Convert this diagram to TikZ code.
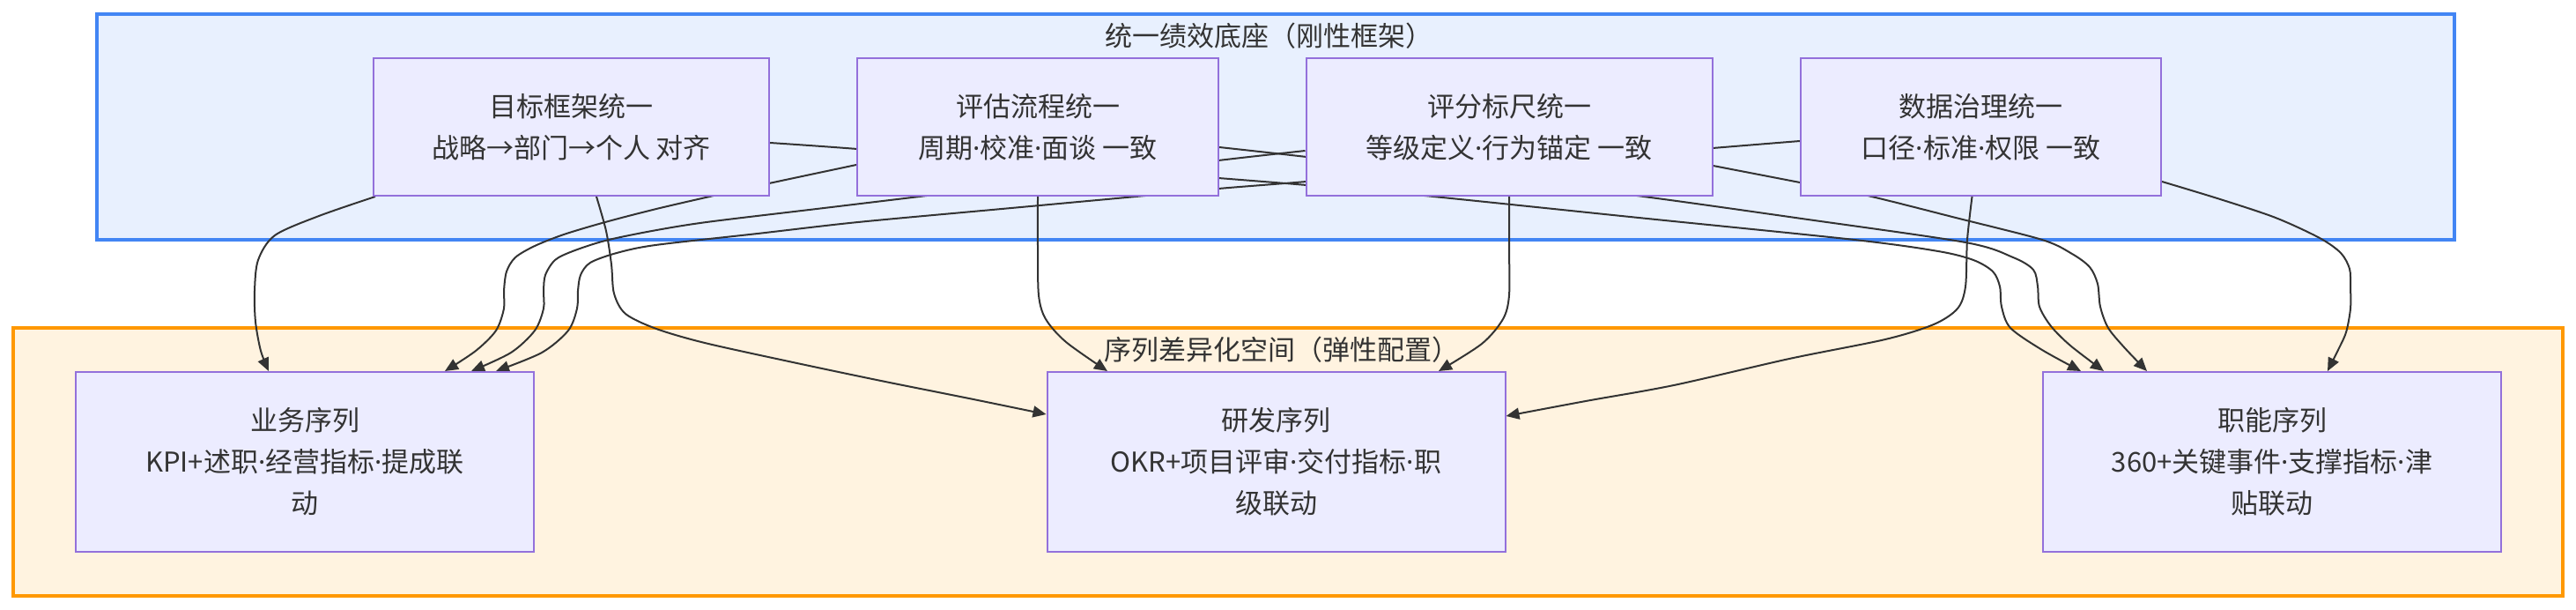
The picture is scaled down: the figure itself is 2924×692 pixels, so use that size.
\documentclass[tikz,border=0pt]{standalone}
\usepackage{fontspec}
\setmainfont{Noto Sans CJK SC}
\newfontfamily\dotfont{Noto Sans}
\newcommand{\mydot}{{\dotfont ·}}
\usetikzlibrary{arrows.meta,calc}
\definecolor{nodeFill}{HTML}{ECECFF}
\definecolor{nodeStroke}{HTML}{9370DB}
\definecolor{txt}{HTML}{333333}
\definecolor{topFill}{HTML}{E8F0FE}
\definecolor{topStroke}{HTML}{4285F4}
\definecolor{botFill}{HTML}{FFF3E0}
\definecolor{botStroke}{HTML}{FF9800}
\pgfdeclarelayer{bg}
\pgfdeclarelayer{edges}
\pgfsetlayers{bg,edges,main}
\begin{document}
\begin{tikzpicture}[x=1pt,y=-1pt,
  unit/.style={draw=nodeStroke, fill=nodeFill, line width=2pt, text=txt, align=center,
    font=\fontsize{31}{47}\selectfont, inner sep=0pt},
  topunit/.style={unit, minimum height=156pt},
  botunit/.style={unit, minimum width=520pt, minimum height=204pt},
  topclu/.style={draw=topStroke, fill=topFill, line width=3.5pt, inner sep=0pt},
  botclu/.style={draw=botStroke, fill=botFill, line width=3.5pt, inner sep=0pt},
  clutitle/.style={text=txt, font=\fontsize{31}{47}\selectfont, inner sep=0pt},
  edge/.style={draw=txt, line width=2pt, -{Triangle[length=15pt,width=13pt]}},
  curve/.style={smooth, tension=0.5}]
\useasboundingbox (0,0) rectangle (2924,692);
\begin{pgfonlayer}{bg}
\node[topclu, minimum width=2676pt, minimum height=256pt] (top) at (1448,144) {};
\node[botclu, minimum width=2894pt, minimum height=304pt] (bot) at (1462,524) {};
\end{pgfonlayer}
\node[clutitle] (t1) at (1440,41) {统一绩效底座（刚性框架）};
\node[clutitle] (t2) at (1455,397) {序列差异化空间（弹性配置）};
\node[topunit, minimum width=449pt] (A) at (648.5,144) {目标框架统一\\战略→部门→个人 对齐};
\node[topunit, minimum width=410pt] (B) at (1178,144) {评估流程统一\\周期\mydot 校准\mydot 面谈 一致};
\node[topunit, minimum width=461pt] (C) at (1713,144) {评分标尺统一\\等级定义\mydot 行为锚定 一致};
\node[topunit, minimum width=409pt] (D) at (2248.5,144) {数据治理统一\\口径\mydot 标准\mydot 权限 一致};
\node[botunit] (E) at (346,524) {业务序列\\KPI+述职\mydot 经营指标\mydot 提成联\\动};
\node[botunit] (F) at (1448.5,524) {研发序列\\OKR+项目评审\mydot 交付指标\mydot 职\\级联动};
\node[botunit] (G) at (2579,524) {职能序列\\360+关键事件\mydot 支撑指标\mydot 津\\贴联动};
\begin{pgfonlayer}{edges}
% start points
\coordinate (sAE) at ($(A.south west)+(3,0)$);
\coordinate (sAF) at ($(A.south west)+(254,0)$);
\coordinate (sAG) at ($(A.east)+(0,18)$);
\coordinate (sBE) at ($(B.west)+(0,43)$);
\coordinate (sBF) at (B.south);
\coordinate (sBG) at ($(B.east)+(0,23)$);
\coordinate (sCE) at ($(C.west)+(0,27)$);
\coordinate (sCF) at (C.south);
\coordinate (sCG) at ($(C.east)+(0,44)$);
\coordinate (sDE) at ($(D.west)+(0,16)$);
\coordinate (sDF) at ($(D.south)+(-10,0)$);
\coordinate (sDG) at ($(D.east)+(0,62)$);
% end points
\coordinate (eAE) at ($(E.north west)+(220,0)$);
\coordinate (eBE) at ($(E.north west)+(420,0)$);
\coordinate (eCE) at ($(E.north west)+(450,0)$);
\coordinate (eDE) at ($(E.north west)+(478,0)$);
\coordinate (eAF) at ($(F.west)+(0,-54)$);
\coordinate (eBF) at ($(F.north west)+(69.5,0)$);
\coordinate (eCF) at ($(F.north west)+(445.5,0)$);
\coordinate (eDF) at ($(F.east)+(0,-52)$);
\coordinate (eAG) at ($(G.north west)+(44,0)$);
\coordinate (eBG) at ($(G.north west)+(70,0)$);
\coordinate (eCG) at ($(G.north west)+(119,0)$);
\coordinate (eDG) at ($(G.north west)+(324,0)$);
% edges
\draw[edge] plot[curve] coordinates {(sAE) (362,245) (312,267) (293,295) (289,330) (290,365) (296,398) (eAE)};
\draw[edge] plot[curve] coordinates {(sAF) (688,262) (694,300) (697,333) (710,356) (745,373) (800,389) (900,411) (1000,432) (1100,452) (eAF)};
\draw[edge] plot[curve] coordinates {(sAG) (973,169) (1180,186) (1383,202) (1483,210) (1617,222) (1860,247) (2105,272) (2200,285) (2240,295) (2262,308) (2270,325) (2272,348) (2282,372) (2318,397) (eAG)};
\draw[edge] plot[curve] coordinates {(sBE) (873,208) (810,222) (745,237) (687,252) (640,266) (607,279) (585,292) (575,308) (572,330) (572,350) (563,375) (540,398) (eBE)};
\draw[edge] plot[curve] coordinates {(sBF) (1178,280) (1179,335) (1187,362) (1210,388) (eBF)};
\draw[edge] plot[curve] coordinates {(sBG) (1483,178) (1670,200) (1858,222) (2045,248) (2231,275) (2285,292) (2308,306) (2313,325) (2315,348) (2328,370) (2350,392) (eBG)};
\draw[edge] plot[curve] coordinates {(sCE) (1383,182) (1218,202) (1052,222) (927,237) (802,252) (740,262) (687,273) (650,285) (630,295) (619,312) (617,330) (617,350) (607,375) (580,400) (eCE)};
\draw[edge] plot[curve] coordinates {(sCF) (1713,280) (1713,335) (1706,362) (1682,390) (eCF)};
\draw[edge] plot[curve] coordinates {(sCG) (2043,207) (2120,222) (2220,247) (2318,272) (2352,288) (2372,303) (2381,322) (2384,348) (2393,372) (2412,395) (eCG)};
\draw[edge] plot[curve] coordinates {(sDE) (1944,168) (1713,187) (1483,206) (1383,214) (1300,222) (1137,237) (974,252) (860,265) (744,278) (700,287) (670,298) (659,312) (656,330) (655,350) (645,375) (615,400) (eDE)};
\draw[edge] plot[curve] coordinates {(sDF) (2233,272) (2231,325) (2222,350) (2195,368) (2140,385) (2031,407) (1900,437) (1800,455) (eDF)};
\draw[edge] plot[curve] coordinates {(sDG) (2520,226) (2583,247) (2633,270) (2657,287) (2667,305) (2668,325) (2668,350) (2663,377) (2653,399) (eDG)};
\end{pgfonlayer}
\end{tikzpicture}
\end{document}
